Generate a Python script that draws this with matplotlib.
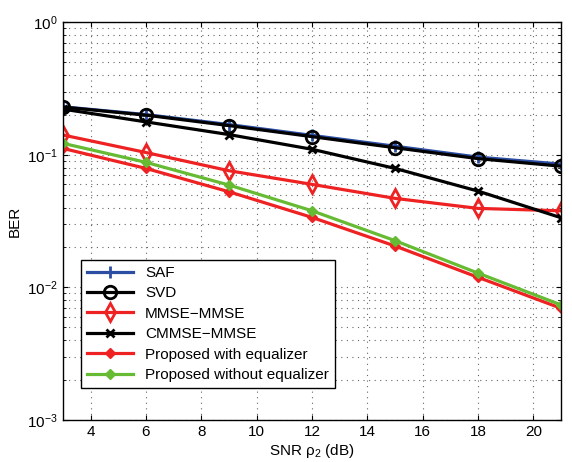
import matplotlib
matplotlib.use('Agg')
import matplotlib.pyplot as plt
from matplotlib.ticker import LogLocator, MultipleLocator

plt.rcParams['font.family'] = ['Liberation Sans', 'DejaVu Sans']
plt.rcParams['mathtext.fontset'] = 'custom'
plt.rcParams['mathtext.rm'] = 'Liberation Sans'
plt.rcParams['mathtext.it'] = 'Liberation Sans'
plt.rcParams['mathtext.default'] = 'regular'

snr = [3, 6, 9, 12, 15, 18, 21]
saf = [0.230, 0.201, 0.169, 0.140, 0.116, 0.096, 0.085]
svd = [0.229, 0.199, 0.166, 0.137, 0.113, 0.0935, 0.082]
mmse_mmse = [0.141, 0.104, 0.0758, 0.0598, 0.0469, 0.0394, 0.0378]
cmmse_mmse = [0.221, 0.177, 0.142, 0.110, 0.0789, 0.0532, 0.0335]
prop_eq = [0.1117, 0.0789, 0.0526, 0.0337, 0.0205, 0.0119, 0.00695]
prop_noeq = [0.122, 0.0877, 0.0591, 0.0378, 0.0225, 0.0128, 0.00737]

blue = '#2b4ea3'
red = '#ee2222'
green = '#66bb33'

fig = plt.figure(figsize=(5.72, 4.62), dpi=100)
ax = fig.add_axes([0.110, 0.091, 0.871, 0.861])

lw = 2.3
ax.semilogy(snr, saf, '-+', color=blue, lw=lw, ms=9, mew=2, label='SAF')
ax.semilogy(snr, svd, '-o', color='black', lw=lw, ms=9, mew=2, mfc='none', label='SVD')
ax.semilogy(snr, mmse_mmse, '-d', color=red, lw=lw, ms=9, mew=2, mfc='none', label='MMSE\u2212MMSE')
ax.semilogy(snr, cmmse_mmse, '-x', color='black', lw=lw, ms=6, mew=2, label='CMMSE\u2212MMSE')
ax.semilogy(snr, prop_eq, '-D', color=red, lw=lw, ms=5.5, label='Proposed with equalizer')
ax.semilogy(snr, prop_noeq, '-D', color=green, lw=lw, ms=5.5, label='Proposed without equalizer')

ax.set_xlim(3, 21)
ax.set_ylim(1e-3, 1)
ax.xaxis.set_major_locator(MultipleLocator(2))
ax.yaxis.set_major_locator(LogLocator(base=10, numticks=10))
ax.yaxis.set_minor_locator(LogLocator(base=10, subs=range(2, 10), numticks=10))
ax.grid(True, which='major', linestyle=(0, (1, 4)), color='#666666', lw=0.8)
ax.grid(True, which='minor', axis='y', linestyle=(0, (1, 4)), color='#666666', lw=0.8)
ax.tick_params(which='both', direction='in', top=True, right=True, labelsize=11)
ax.tick_params(which='minor', axis='y', left=True, right=True)
for s in ax.spines.values():
    s.set_linewidth(1.0)

ax.set_xlabel('SNR \u03c1$_2$ (dB)', fontsize=11, labelpad=2)
ax.set_ylabel('BER', fontsize=11, labelpad=4)

leg = ax.legend(loc='lower left', bbox_to_anchor=(0.036, 0.08), fontsize=11,
                handlelength=3, labelspacing=0.42, borderaxespad=0, fancybox=False,
                framealpha=1, edgecolor='black')
leg.get_frame().set_linewidth(1.0)

fig.savefig('out.png', dpi=100)
